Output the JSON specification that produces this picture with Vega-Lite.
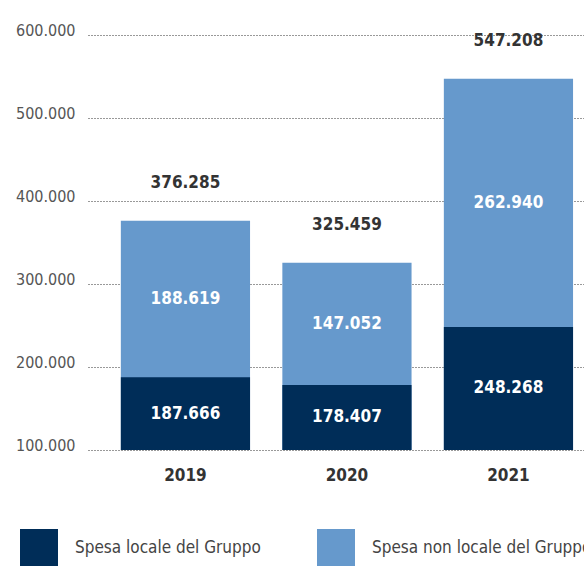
{
  "$schema": "https://vega.github.io/schema/vega-lite/v6.json",
  "width": 496,
  "height": 415,
  "autosize": {"type": "none"},
  "padding": {"left": 88, "top": 35, "right": 0, "bottom": 116},
  "background": "white",
  "config": {
    "view": {"stroke": null},
    "locale": {"number": {"decimal": ",", "thousands": ".", "grouping": [3], "currency": ["", " €"]}}
  },
  "data": {
    "values": [
      {"anno": "2019", "locale": 187666, "nonlocale": 188619, "totale": 376285},
      {"anno": "2020", "locale": 178407, "nonlocale": 147052, "totale": 325459},
      {"anno": "2021", "locale": 248268, "nonlocale": 262940, "totale": 547208}
    ]
  },
  "transform": [
    {"calculate": "(datum.locale + datum.totale) / 2", "as": "mid_nl"},
    {"calculate": "(100000 + datum.locale) / 2", "as": "mid_l"}
  ],
  "encoding": {
    "x": {
      "field": "anno", "type": "nominal", "title": null,
      "scale": {"paddingInner": 0.2, "paddingOuter": 0.1356, "align": 0.75},
      "axis": {"domain": false, "ticks": false, "labelAngle": 0, "labelPadding": 17,
               "labelFont": "DejaVu Sans Condensed, DejaVu Sans, sans-serif", "labelFontWeight": "bold", "labelFontSize": 17, "labelColor": "#333333"}
    }
  },
  "layer": [
    {
      "mark": {"type": "bar"},
      "encoding": {
        "y": {"field": "totale", "type": "quantitative", "title": null,
              "scale": {"domain": [100000, 600000], "clamp": true, "nice": false, "zero": false},
              "axis": {"values": [100000, 200000, 300000, 400000, 500000, 600000],
                       "format": ",d",
                       "domain": false, "ticks": false, "labelPadding": 13, "labelOffset": -5,
                       "labelFont": "DejaVu Sans Condensed, DejaVu Sans, sans-serif", "labelFontSize": 16, "labelColor": "#555555",
                       "grid": true, "gridDash": [1, 2], "gridColor": "#333333", "gridWidth": 1}},
        "color": {"datum": "Spesa non locale del Gruppo", "type": "nominal",
                  "scale": {"domain": ["Spesa locale del Gruppo", "Spesa non locale del Gruppo"], "range": ["#002d58", "#6699cc"]},
                  "legend": {"orient": "none", "legendX": -68, "legendY": 494, "direction": "horizontal", "title": null,
                             "padding": 0, "symbolType": "square", "symbolSize": 1444, "symbolStrokeWidth": 0,
                             "symbolOpacity": 1, "labelOffset": 17, "columnPadding": 56,
                             "labelFont": "DejaVu Sans Condensed, DejaVu Sans, sans-serif", "labelFontSize": 17, "labelColor": "#444444", "labelLimit": 400}}
      }
    },
    {
      "mark": {"type": "bar"},
      "encoding": {
        "y": {"field": "locale", "type": "quantitative"},
        "color": {"datum": "Spesa locale del Gruppo", "type": "nominal"}
      }
    },
    {
      "mark": {"type": "text", "dy": -38, "font": "DejaVu Sans Condensed, DejaVu Sans, sans-serif", "fontWeight": "bold", "fontSize": 17, "color": "#333333"},
      "encoding": {
        "y": {"field": "totale", "type": "quantitative"},
        "text": {"field": "totale", "type": "quantitative", "format": ",d"}
      }
    },
    {
      "mark": {"type": "text", "font": "DejaVu Sans Condensed, DejaVu Sans, sans-serif", "fontWeight": "bold", "fontSize": 17, "color": "white"},
      "encoding": {
        "y": {"field": "mid_nl", "type": "quantitative"},
        "text": {"field": "nonlocale", "type": "quantitative", "format": ",d"}
      }
    },
    {
      "mark": {"type": "text", "font": "DejaVu Sans Condensed, DejaVu Sans, sans-serif", "fontWeight": "bold", "fontSize": 17, "color": "white"},
      "encoding": {
        "y": {"field": "mid_l", "type": "quantitative"},
        "text": {"field": "locale", "type": "quantitative", "format": ",d"}
      }
    }
  ]
}
